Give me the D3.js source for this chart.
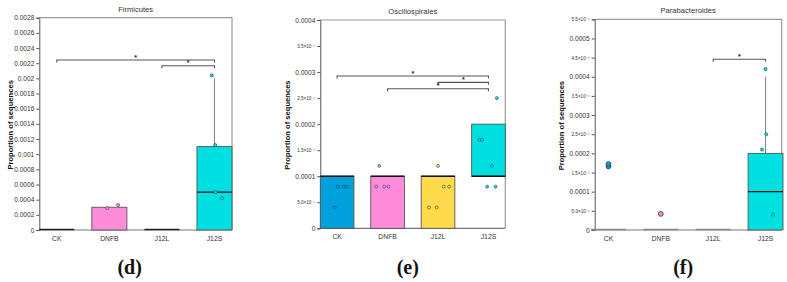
<!DOCTYPE html>
<html>
<head>
<meta charset="utf-8">
<script src="https://cdn.jsdelivr.net/npm/d3@7"></script>
<style>
  html, body { margin: 0; padding: 0; background: #fff; }
  svg { display: block; font-family: "Liberation Sans", Arial, sans-serif; }
</style>
</head>
<body>
<svg id="chart" width="787" height="282"></svg>
<script>
// ---------- DATA ----------
const categories = ["CK", "DNFB", "J12L", "J12S"];
const groupColors = ["#00a0dc", "#ff8cda", "#ffda4a", "#00e0e2"];

// (d) Firmicutes
const firmTitle = "Firmicutes";
const firmTicks = [0, 0.0002, 0.0004, 0.0006, 0.0008, 0.001, 0.0012, 0.0014, 0.0016, 0.0018, 0.002, 0.0022, 0.0024, 0.0026, 0.0028];
const firmTickLabels = ["0", "0.0002", "0.0004", "0.0006", "0.0008", "0.001", "0.0012", "0.0014", "0.0016", "0.0018", "0.002", "0.0022", "0.0024", "0.0026", "0.0028"];
const firmQ1 = [0, 0, 0, 0];
const firmQ3 = [0, 0.0003, 0, 0.0011];
const firmMedian = [0, null, 0, 0.0005];
const firmWhiskerHigh = [0, 0.0003, 0, 0.002];
const firmPoints = [[], [0.00029, 0.00033], [], [0.00204, 0.00112, 0.0005, 0.00042]];
const firmJitter = [[], [-0.06, 0.25], [], [-0.08, 0.02, 0.03, 0.22]];
const firmSig = [["CK", "J12S", 0.002242], ["J12L", "J12S", 0.002167]];

// (e) Oscillospirales
const oscTitle = "Oscillospirales";
const oscTicks = [0, 0.00005, 0.0001, 0.00015, 0.0002, 0.00025, 0.0003, 0.00035, 0.0004];
const oscTickLabels = ["0", "5.0×10⁻⁵", "0.0001", "1.5×10⁻⁴", "0.0002", "2.5×10⁻⁴", "0.0003", "3.5×10⁻⁴", "0.0004"];
const oscQ1 = [0, 0, 0, 0.0001];
const oscQ3 = [0.0001, 0.0001, 0.0001, 0.0002];
const oscMedian = [0.0001, 0.0001, 0.0001, 0.0001];
const oscWhiskerHigh = [0.0001, 0.0001, 0.0001, 0.0002];
const oscPoints = [
  [0.00004, 0.00008, 0.00008, 0.00008],
  [0.00012, 0.00008, 0.00008, 0.00008],
  [0.00012, 0.00004, 0.00004, 0.00008, 0.00008],
  [0.00025, 0.00017, 0.00017, 0.00012, 0.00008, 0.00008]
];
const oscJitter = [
  [-0.07, 0.02, 0.2, 0.28],
  [-0.25, -0.34, -0.1, 0.03],
  [0.0, -0.27, -0.04, 0.17, 0.33],
  [0.25, -0.27, -0.19, 0.1, -0.04, 0.21]
];
const oscSig = [["CK", "J12S", 0.0002924], ["J12L", "J12S", 0.0002803], ["DNFB", "J12S", 0.0002681]];

// (f) Parabacteroides
const paraTitle = "Parabacteroides";
const paraTicks = [0, 0.00005, 0.0001, 0.00015, 0.0002, 0.00025, 0.0003, 0.00035, 0.0004, 0.00045, 0.0005, 0.00055];
const paraTickLabels = ["0", "5.0×10⁻⁵", "0.0001", "1.5×10⁻⁴", "0.0002", "2.5×10⁻⁴", "0.0003", "3.5×10⁻⁴", "0.0004", "4.5×10⁻⁴", "0.0005", "5.5×10⁻⁴"];
const paraQ1 = [0, 0, 0, 0];
const paraQ3 = [0, 0, 0, 0.0002];
const paraMedian = [null, null, null, 0.0001];
const paraWhiskerHigh = [0, 0, 0, 0.0004];
const paraPoints = [[0.000166, 0.00017], [0.000042], [], [0.00042, 0.00025, 0.00021, 0.00004]];
const paraJitter = [[0, 0], [0], [], [0.0, 0.02, -0.1, 0.21]];
const paraSig = [["J12L", "J12S", 0.0004457]];

const panelLabels = ["(d)", "(e)", "(f)"];

// ---------- DRAWING ----------
const svg = d3.select("#chart");

const panels = [
  { title: firmTitle, ticks: firmTicks, labels: firmTickLabels, q1: firmQ1, q3: firmQ3, med: firmMedian, wh: firmWhiskerHigh,
    pts: firmPoints, jit: firmJitter, sig: firmSig, label: panelLabels[0],
    frame: [39.3, 232, 17.7, 230], band: [39.3, 232], yTitleX: 10, zeroStroke: "#222", ptR: 1.6, bigPts: false, ymax: 0.0028 },
  { title: oscTitle, ticks: oscTicks, labels: oscTickLabels, q1: oscQ1, q3: oscQ3, med: oscMedian, wh: oscWhiskerHigh,
    pts: oscPoints, jit: oscJitter, sig: oscSig, label: panelLabels[1],
    frame: [320.3, 505.3, 20, 228.3], band: [320.3, 505.3], yTitleX: 287, zeroStroke: "#222", ptR: 1.5, bigPts: false, ymax: 0.0004 },
  { title: paraTitle, ticks: paraTicks, labels: paraTickLabels, q1: paraQ1, q3: paraQ3, med: paraMedian, wh: paraWhiskerHigh,
    pts: paraPoints, jit: paraJitter, sig: paraSig, label: panelLabels[2],
    frame: [594.7, 781.7, 19.3, 230], band: [591, 783], yTitleX: 561, zeroStroke: "#888", ptR: 1.6, bigPts: true, ymax: 0.00055 }
];

panels.forEach((p, pi) => {
  const [x0, x1, y0, y1] = p.frame;
  const g = svg.append("g");
  const x = d3.scaleBand().domain(categories).range(p.band).paddingInner(0.333).paddingOuter(0.0);
  const y = d3.scaleLinear().domain([0, p.ymax]).range([y1, y0]);

  // frame (top & right)
  g.append("path")
    .attr("d", `M${x0},${y0}H${x1}V${y1}`)
    .attr("fill", "none").attr("stroke", "#9a9a9a").attr("stroke-width", 1.2);

  // y axis
  const yAxis = d3.axisLeft(y).tickValues(p.ticks).tickSize(3).tickPadding(2)
    .tickFormat((d, i) => p.labels[i]);
  const ya = g.append("g").attr("transform", `translate(${x0},0)`).call(yAxis);
  ya.select(".domain").attr("stroke", "#555").attr("stroke-width", 1);
  ya.selectAll(".tick line").attr("stroke", "#555");
  ya.selectAll(".tick text")
    .attr("fill", "#333")
    .style("font-size", (d, i) => p.labels[i].includes("×") ? "4.6px" : "6.6px")
    .style("font-family", "'Liberation Sans', Arial, sans-serif");

  // x axis
  const xAxis = d3.axisBottom(x).tickSize(0).tickPadding(6);
  const xa = g.append("g").attr("transform", `translate(0,${y1})`).call(xAxis);
  xa.select(".domain").attr("d", `M${x0},0H${x1}`).attr("stroke", "#777").attr("stroke-width", 1.2);
  xa.selectAll(".tick text").attr("fill", "#333").style("font-size", "6.8px")
    .style("font-family", "'Liberation Sans', Arial, sans-serif");

  // title
  g.append("text").attr("x", (x0 + x1) / 2).attr("y", y0 - 6).attr("text-anchor", "middle")
    .attr("fill", "#333").style("font-size", "7.6px").text(p.title);

  // y title
  g.append("text").attr("transform", `translate(${p.yTitleX + 3},${(y0 + y1) / 2 + 1}) rotate(-90)`)
    .attr("text-anchor", "middle").attr("fill", "#111").style("font-size", "7.6px").style("font-weight", "bold")
    .text("Proportion of sequences");

  // whiskers
  categories.forEach((c, i) => {
    if (p.wh[i] > p.q3[i]) {
      g.append("line").attr("x1", x(c) + x.bandwidth() / 2).attr("x2", x(c) + x.bandwidth() / 2)
        .attr("y1", y(p.q3[i])).attr("y2", y(p.wh[i])).attr("stroke", "#888").attr("stroke-width", 1.1);
    }
  });

  // boxes
  categories.forEach((c, i) => {
    const h = y(p.q1[i]) - y(p.q3[i]);
    if (h > 0) {
      g.append("rect").attr("x", x(c)).attr("width", x.bandwidth())
        .attr("y", y(p.q3[i])).attr("height", h)
        .attr("fill", groupColors[i]).attr("stroke", "#555").attr("stroke-width", 0.9);
    } else {
      g.append("line").attr("x1", x(c)).attr("x2", x(c) + x.bandwidth())
        .attr("y1", y(p.q1[i]) - 0.5).attr("y2", y(p.q1[i]) - 0.5)
        .attr("stroke", p.zeroStroke).attr("stroke-width", 1.6);
    }
    if (p.med[i] !== null && p.med[i] !== undefined && h > 0) {
      g.append("line").attr("x1", x(c)).attr("x2", x(c) + x.bandwidth())
        .attr("y1", y(p.med[i])).attr("y2", y(p.med[i]))
        .attr("stroke", "#111").attr("stroke-width", 1.3);
    }
  });

  // points
  categories.forEach((c, i) => {
    p.pts[i].forEach((v, k) => {
      const cx = x(c) + x.bandwidth() / 2 + p.jit[i][k] * x.bandwidth();
      const big = p.bigPts && i < 2;
      g.append("circle").attr("cx", cx).attr("cy", y(v) - (big && k === 1 ? 0.8 : 0))
        .attr("r", big ? 2.4 : p.ptR)
        .attr("fill", groupColors[i]).attr("stroke", big ? "#333" : "#2a4a55").attr("stroke-width", big ? 0.8 : 0.6);
    });
  });

  // significance brackets
  p.sig.forEach(([a, b, v]) => {
    const xa_ = x(a) + x.bandwidth() / 2, xb_ = x(b) + x.bandwidth() / 2, yy = y(v);
    g.append("path").attr("d", `M${xa_},${yy + 2.5}V${yy}H${xb_}V${yy + 2.5}`)
      .attr("fill", "none").attr("stroke", "#555").attr("stroke-width", 1.1);
    g.append("text").attr("x", (xa_ + xb_) / 2).attr("y", yy - 0.5).attr("text-anchor", "middle")
      .attr("fill", "#222").style("font-size", "7px").style("font-weight", "bold").text("*");
  });

  // panel label
  svg.append("text").attr("x", (x0 + x1) / 2 + (pi === 0 ? -6 : -5)).attr("y", 274).attr("text-anchor", "middle")
    .style("font-family", "'Liberation Serif', 'Times New Roman', serif").style("font-size", "20px")
    .style("font-weight", "bold").attr("fill", "#111").text(p.label);
});
</script>
</body>
</html>
